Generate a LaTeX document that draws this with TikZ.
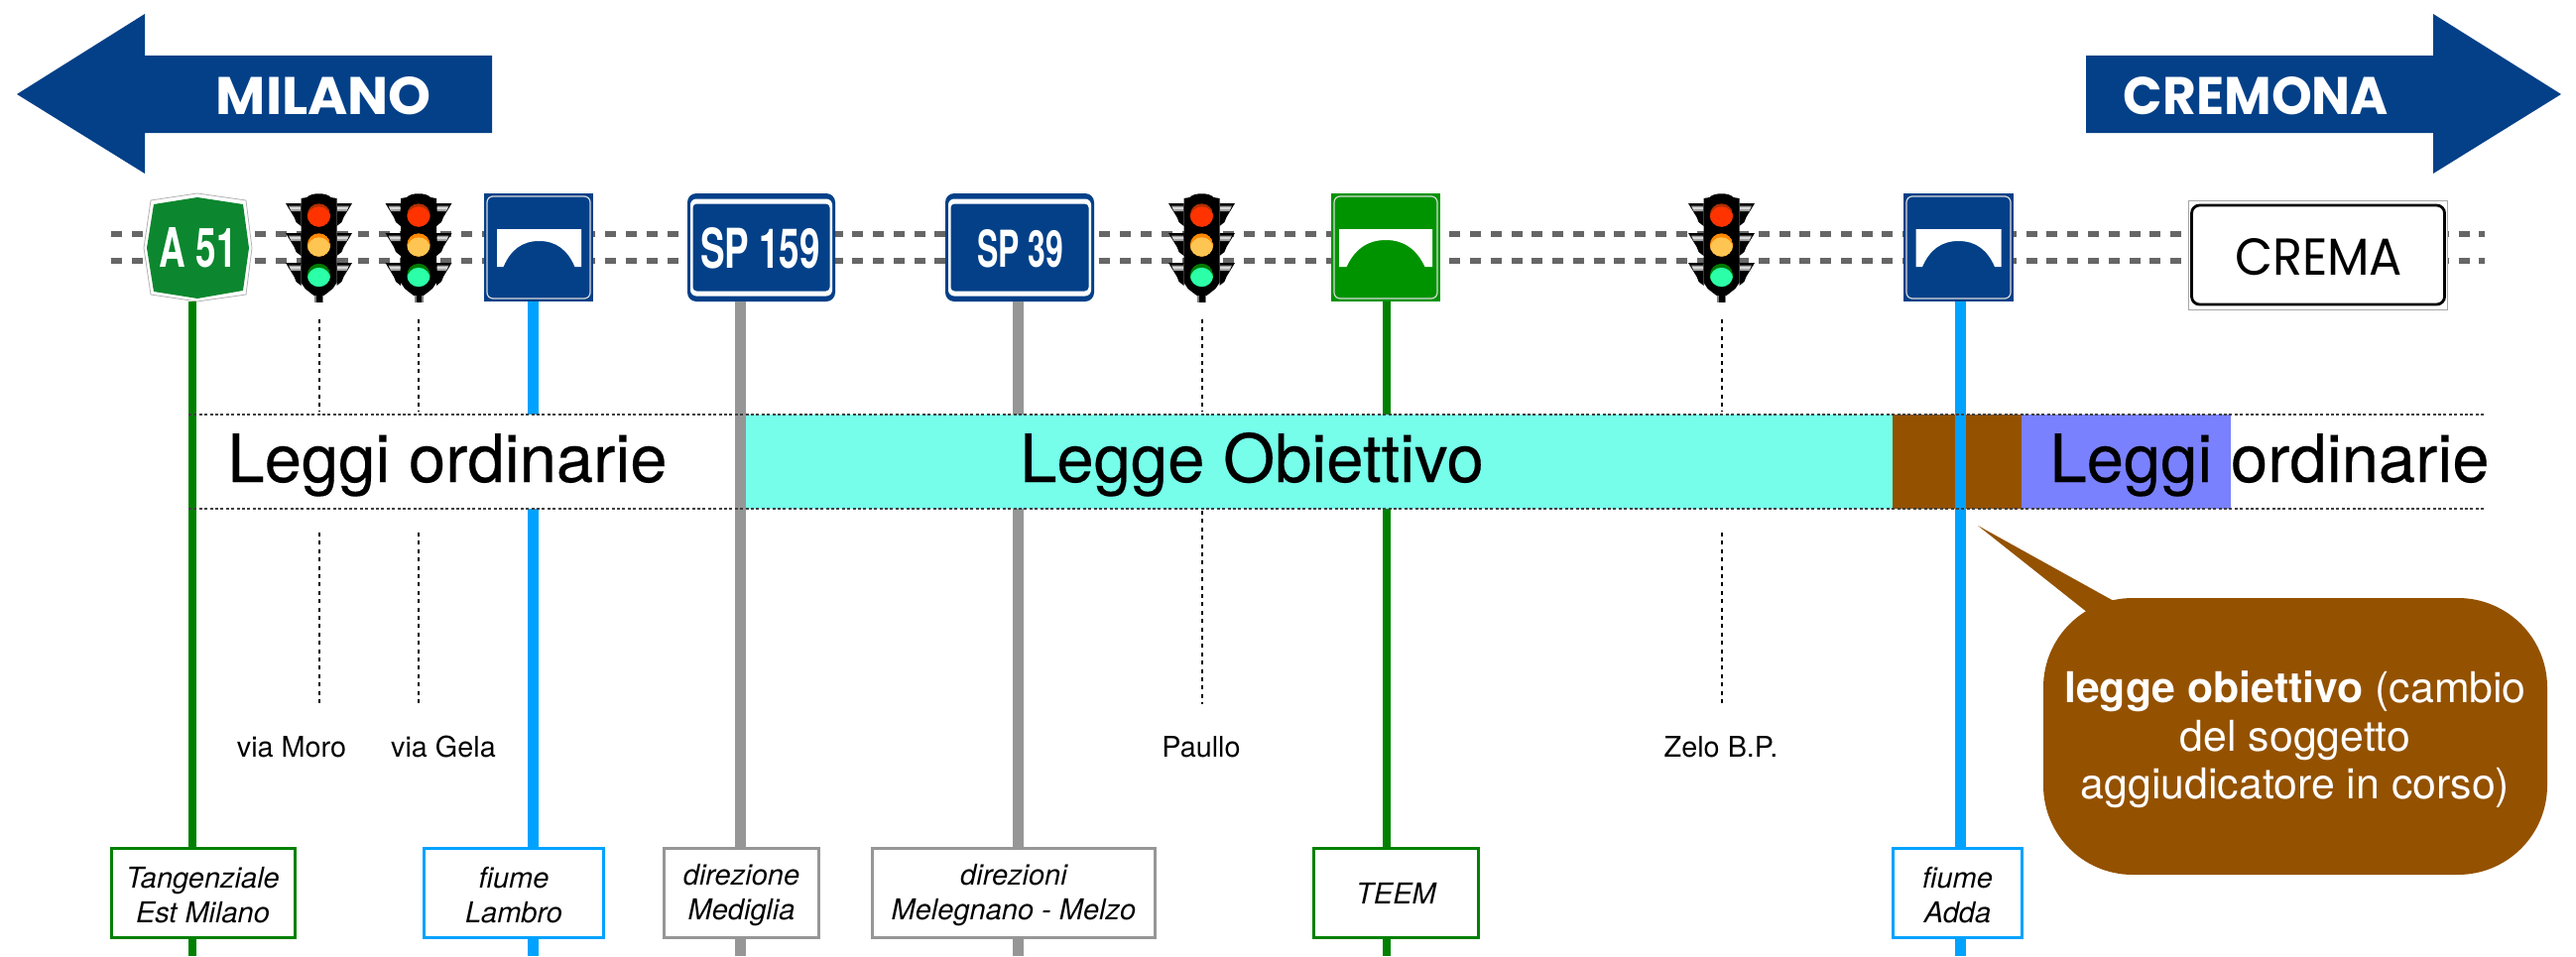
\documentclass[tikz,border=0pt]{standalone}
\usepackage{fontspec}
\setmainfont{TeX Gyre Heros}
\newfontfamily\popfont{Poppins}
\newfontfamily\bandfont[FakeBold=0.25]{TeX Gyre Heros}
\definecolor{signblue}{HTML}{034088}
\definecolor{rodgreen}{HTML}{008000}
\definecolor{rodblue}{HTML}{00A2FF}
\definecolor{rodgray}{HTML}{969696}
\definecolor{roadgray}{HTML}{666666}
\definecolor{bandcyan}{HTML}{76FEEA}
\definecolor{bandbrown}{HTML}{945200}
\definecolor{bandviolet}{HTML}{7A81FF}
\definecolor{a51green}{HTML}{0C872F}
\definecolor{bridgegreen}{HTML}{009300}
\definecolor{lensredd}{HTML}{B03000}
\definecolor{lensred}{HTML}{FF3300}
\definecolor{lensord}{HTML}{FF8800}
\definecolor{lensor}{HTML}{FFC552}
\definecolor{lensgrd}{HTML}{007A00}
\definecolor{lensgr}{HTML}{2BFFA8}
\newcommand\tagtop{\rule{0pt}{13.5pt}}
\newcommand\tlens[4]{%
  \begin{scope}
    \clip (0,#1) circle [radius=11.7];
    \fill[#2] (0,#1) circle [radius=11.7];
    \fill[#3] (0,#1+#4) circle [radius=11.7];
  \end{scope}}
\newcommand\twings[1]{%
  \fill[black] (-33.5,#1) -- (-18,#1) -- (-18,#1+23) -- (-23,#1+19) -- (-25,#1+14) -- cycle;
  \fill[black] (33.5,#1) -- (18,#1) -- (18,#1+23) -- (23,#1+19) -- (25,#1+14) -- cycle;
  \fill[gray!75] (-30.5,#1+2.5) -- (-18.5,#1+2.5) -- (-18.5,#1+8) -- (-28,#1+8) -- cycle;
  \fill[gray!75] (30.5,#1+2.5) -- (18.5,#1+2.5) -- (18.5,#1+8) -- (28,#1+8) -- cycle;
  \fill[gray!30] (-29.5,#1+4.2) -- (-18.5,#1+4.2) -- (-18.5,#1+6) -- (-28.5,#1+6) -- cycle;
  \fill[gray!30] (29.5,#1+4.2) -- (18.5,#1+4.2) -- (18.5,#1+6) -- (28.5,#1+6) -- cycle;}
\newcommand\bridgeglyph[4]{%
  \fill[white] ({#1-#2},231) -- ({#1+#2},231) -- ({#1+#2},269) -- ({#1+#3},269)
    .. controls ({#1+#3*.8},252) and ({#1+#3*.48},#4) .. (#1,#4)
    .. controls ({#1-#3*.48},#4) and ({#1-#3*.8},252) .. ({#1-#3},269)
    -- ({#1-#2},269) -- cycle;}
\tikzset{
  tlight/.pic={
    \twings{10}\twings{40}\twings{70}
    \fill[black] (-18,5) -- (-12,4) .. controls (-8,-1) and (8,-1) .. (12,4) -- (18,5)
      -- (18,90) -- (14,96) -- (9,100) -- (5,103) -- (-5,103) -- (-9,100) -- (-14,96) -- (-18,90) -- cycle;
    \fill[gray] (-4.5,103) rectangle (4.5,110);
    \fill[black] (-2.5,103) rectangle (3,110);
    \tlens{22}{lensredd}{lensred}{3}
    \tlens{52}{lensord}{lensor}{4}
    \tlens{82.5}{lensgrd}{lensgr}{4}
    \coordinate (-s) at (0,110);
  },
  road/.style={draw=roadgray,line width=3pt,dash pattern=on 5.5pt off 4.88pt},
  banddot/.style={draw=black!75,line width=1pt,dash pattern=on 1.5pt off 1.2pt},
  tdot/.style={draw=black,line width=1pt,dash pattern=on 2pt off 2.2pt},
  rodg/.style={draw=rodgreen,line width=4pt},
  rodb/.style={draw=rodblue,line width=5.5pt},
  rodk/.style={draw=rodgray,line width=5.5pt},
  bridgebox/.style={rectangle,inner sep=0pt,outer sep=0pt,minimum height=54.5pt},
  bridgerim/.style={rectangle,rounded corners=3pt,draw=white!85!black,line width=.6pt,inner sep=0pt,minimum height=51.5pt},
  spouter/.style={rectangle,rounded corners=4.5pt,fill=signblue,inner sep=0pt,outer sep=0pt,minimum width=#1,minimum height=54.5pt},
  spwhite/.style={rectangle,rounded corners=3pt,fill=white,inner sep=0pt,minimum width=#1,minimum height=49pt},
  spinner/.style={rectangle,rounded corners=2pt,fill=signblue,inner sep=0pt,minimum width=#1,minimum height=44pt},
  signtext/.style={inner sep=0pt,text=white},
  bandtext/.style={inner sep=0pt,anchor=base,font=\bandfont\fontsize{33.5}{36}\selectfont},
  placetext/.style={inner sep=0pt,anchor=base,font=\fontsize{14.4}{17.5}\selectfont},
  tag/.style={rectangle,draw=#1,line width=1.5pt,fill=white,inner sep=0pt,outer sep=0pt,align=center,
    minimum height=45pt,font=\fontsize{14.5}{17.5}\selectfont\itshape},
  bubble/.style={rectangle,fill=bandbrown,rounded corners=45pt,inner sep=0pt,minimum width=254pt,minimum height=139.5pt},
  bubbletext/.style={inner sep=0pt,text=white,align=center,font=\fontsize{21.4}{24.3}\selectfont},
}
\begin{document}
\begin{tikzpicture}[x=0.5pt,y=-0.5pt]
\useasboundingbox (0,0) rectangle (2597,964);
\fill[white] (0,0) rectangle (2597,964);
\coordinate (bottom) at (0,964);
\coordinate (ua) at (0,322); \coordinate (ub) at (0,415);
\coordinate (la) at (0,537); \coordinate (lb) at (0,710); \coordinate (pa) at (0,515);
% direction arrows
\fill[signblue] (17,95) -- (146,14) -- (146,56) -- (496,56) -- (496,134) -- (146,134) -- (146,175) -- cycle;
\fill[signblue] (2582,95) -- (2453,14) -- (2453,56) -- (2103,56) -- (2103,134) -- (2453,134) -- (2453,175) -- cycle;
\node[signtext] (milano) at (326.5,96.5) {\resizebox{108.5pt}{19pt}{\popfont\bfseries MILANO}};
\node[signtext] (cremona) at (2274.5,96.5) {\resizebox{133.5pt}{19pt}{\popfont\bfseries CREMONA}};
% road
\coordinate (r1a) at (112,236); \coordinate (r1b) at (2505,236);
\coordinate (r2a) at (112,263); \coordinate (r2b) at (2505,263);
\draw[road] (r1a) -- (r1b);
\draw[road] (r2a) -- (r2b);
% A51
\fill[white] (199,195) -- (248,202) -- (254,250) -- (248,297) -- (199,304) -- (152,297) -- (145,250) -- (152,202) -- cycle;
\draw[gray!60,line width=.4pt] (199,195) -- (248,202) -- (254,250) -- (248,297) -- (199,304) -- (152,297) -- (145,250) -- (152,202) -- cycle;
\fill[a51green] (199,199) -- (245,206) -- (251,250) -- (245,293) -- (199,301) -- (155,294) -- (148,250) -- (155,206) -- cycle;
\node[signtext] (a51) at (200,250) {\resizebox{39pt}{20pt}{\bfseries A 51}};
\coordinate (a51s) at (194,304);
% traffic lights
\pic (tl1) at (321.5,195) {tlight};
\pic (tl2) at (422,195) {tlight};
\pic (tl3) at (1211.5,195) {tlight};
\pic (tl4) at (1735.5,195) {tlight};
% bridge signs
\node[bridgebox,fill=signblue,minimum width=55pt] (br1) at (543,249.5) {};
\node[bridgerim,minimum width=52pt] (br1r) at (br1) {};
\bridgeglyph{543.5}{42.5}{36}{243}
\node[bridgebox,fill=bridgegreen,minimum width=55pt] (br2) at (1397,249.5) {};
\node[bridgerim,minimum width=52pt] (br2r) at (br2) {};
\bridgeglyph{1397}{47}{39.5}{242}
\node[bridgebox,fill=signblue,minimum width=55.5pt] (br3) at (1974.5,249.5) {};
\node[bridgerim,minimum width=52.5pt] (br3r) at (br3) {};
\bridgeglyph{1974.5}{43}{36.5}{243}
% SP signs
\node[spouter=74.5pt] (sp1) at (767.5,249.5) {};
\node[spwhite=71.5pt] (sp1w) at (sp1) {};
\node[spinner=69pt] (sp1i) at (sp1) {};
\node[signtext] (sp1t) at (766.5,250.5) {\resizebox{60.5pt}{20.5pt}{\bfseries SP 159}};
\node[spouter=75pt] (sp2) at (1028,249.5) {};
\node[spwhite=72pt] (sp2w) at (sp2) {};
\node[spinner=69.5pt] (sp2i) at (sp2) {};
\node[signtext] (sp2t) at (1029,251) {\resizebox{43.5pt}{19pt}{\bfseries SP 39}};
% Crema sign
\node[rectangle,draw=gray!70,line width=.5pt,fill=white,inner sep=0pt,minimum width=130.5pt,minimum height=55pt] (crema) at (2337,257) {};
\node[rectangle,draw=black,rounded corners=4pt,line width=1.4pt,inner sep=0pt,minimum width=127.5pt,minimum height=50pt] (cremai) at (crema) {};
\node[inner sep=0pt] (cremat) at (2337.5,259.5) {\resizebox{84.5pt}{18.5pt}{\popfont CREMA}};
% tags
\node[tag=rodgreen,minimum width=92.5pt] (tg1) at (204.5,900) {\tagtop Tangenziale\\Est Milano};
\node[tag=rodblue,minimum width=90.5pt] (tg2) at (518,900) {\tagtop fiume\\Lambro};
\node[tag=rodgray,minimum width=78pt] (tg3) at (747.5,900) {\tagtop direzione\\Mediglia};
\node[tag=rodgray,minimum width=142.5pt] (tg4) at (1022,900) {\tagtop direzioni\\Melegnano - Melzo};
\node[tag=rodgreen,minimum width=83pt] (tg5) at (1407.5,900) {\rule{0pt}{11.5pt}TEEM};
\node[tag=rodblue,minimum width=65pt] (tg6) at (1973.5,900) {\tagtop fiume\\Adda};
% rods
\draw[rodg] (a51s) -- (a51s |- tg1.north);
\draw[rodg] (a51s |- tg1.south) -- (a51s |- bottom);
\coordinate (r2) at ([xshift=-3pt]br1.south);
\draw[rodb] (r2) -- (r2 |- tg2.north);
\draw[rodb] (r2 |- tg2.south) -- (r2 |- bottom);
\coordinate (r3) at ([xshift=-10.5pt]sp1.south);
\draw[rodk] (r3) -- (r3 |- tg3.north);
\draw[rodk] (r3 |- tg3.south) -- (r3 |- bottom);
\coordinate (r4) at ([xshift=-1pt]sp2.south);
\draw[rodk] (r4) -- (r4 |- tg4.north);
\draw[rodk] (r4 |- tg4.south) -- (r4 |- bottom);
\coordinate (r5) at ([xshift=.5pt]br2.south);
\draw[rodg] (r5) -- (r5 |- tg5.north);
\draw[rodg] (r5 |- tg5.south) -- (r5 |- bottom);
% bands
\fill[white] (199,418) rectangle (741,513);
\fill[bandcyan] (752,418) rectangle (1908,513);
\fill[bandbrown] (1908,418) rectangle (2038,513);
\fill[bandviolet] (2038,418) rectangle (2249,513);
\coordinate (r6) at ([xshift=.75pt]br3.south);
\draw[rodb] (r6) -- (r6 |- tg6.north);
\draw[rodb] (r6 |- tg6.south) -- (r6 |- bottom);
\coordinate (d1a) at (190,418); \coordinate (d1b) at (2505,418);
\coordinate (d2a) at (190,513); \coordinate (d2b) at (2505,513);
\draw[banddot] (d1a) -- (d1b);
\draw[banddot] (d2a) -- (d2b);
\node[bandtext] (b1) at (451,486) {Leggi ordinarie};
\node[bandtext] (b2) at (1262,486) {Legge Obiettivo};
\node[bandtext] (b3) at (2288,486) {Leggi ordinarie};
% place labels and dotted ticks
\draw[tdot] (tl1-s |- ua) -- (tl1-s |- ub);
\draw[tdot] (tl2-s |- ua) -- (tl2-s |- ub);
\draw[tdot] (tl3-s |- ua) -- (tl3-s |- ub);
\draw[tdot] (tl4-s |- ua) -- (tl4-s |- ub);
\draw[tdot] (tl1-s |- la) -- (tl1-s |- lb);
\draw[tdot] (tl2-s |- la) -- (tl2-s |- lb);
\draw[tdot] (tl3-s |- pa) -- (tl3-s |- lb);
\draw[tdot] (tl4-s |- la) -- (tl4-s |- lb);
\node[placetext] (p1) at (294,763) {via Moro};
\node[placetext] (p2) at (447,763) {via Gela};
\node[placetext] (p3) at (1211,763) {Paullo};
\node[placetext] (p4) at (1735,763) {Zelo B.P.};
% bubble
\node[bubble] (bub) at (2314,742.5) {};
\coordinate (tip) at (1994,530);
\fill[bandbrown] (tip) -- (2131,606) -- (2170,640) -- (2105,618) -- cycle;
\node[bubbletext] (bubt) at (2314,746) {\textbf{legge obiettivo} (cambio\\del soggetto\\aggiudicatore in corso)};
\end{tikzpicture}
\end{document}
